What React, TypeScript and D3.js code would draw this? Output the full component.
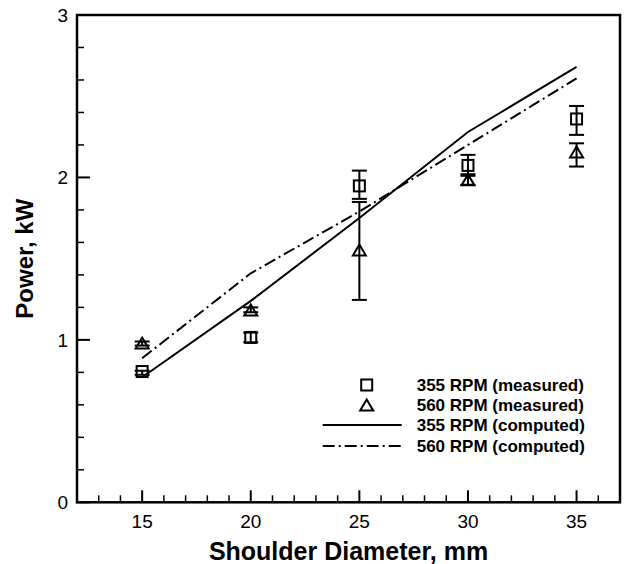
import React from 'react';
import * as d3 from 'd3';

const diameters = [15, 20, 25, 30, 35];
const measured355 = [0.805, 1.015, 1.948, 2.074, 2.36];
const err355Low = [0.785, 0.985, 1.868, 2.01, 2.262];
const err355High = [0.81, 1.045, 2.042, 2.139, 2.44];
const measured560 = [0.98, 1.184, 1.553, 1.985, 2.157];
const err560Low = [0.965, 1.17, 1.246, 1.955, 2.067];
const err560High = [0.99, 1.2, 1.849, 2.02, 2.21];
const computed355 = [0.77, 1.24, 1.75, 2.28, 2.68];
const computed560 = [0.887, 1.41, 1.79, 2.2, 2.61];

const xMajor = [15, 20, 25, 30, 35];
const yMajor = [0, 1, 2, 3];
const legendLabels = [
  '355 RPM (measured)',
  '560 RPM (measured)',
  '355 RPM (computed)',
  '560 RPM (computed)',
];

const W = 628;
const H = 564;
const FONT = 'Arial, "Liberation Sans", Helvetica, sans-serif';

export default function App() {
  const x = d3.scaleLinear().domain([12, 37]).range([77, 620]);
  const y = d3.scaleLinear().domain([0, 3]).range([502.3, 15]);

  const xMinor = d3.range(13, 37, 1).filter((v) => v % 5 !== 0);
  const yMinor = d3.range(0, 3.0001, 0.2).filter((v) => Math.abs(v - Math.round(v)) > 1e-6);

  const line = d3
    .line<[number, number]>()
    .x((d) => x(d[0]))
    .y((d) => y(d[1]));

  const path355 = line(diameters.map((d, i) => [d, computed355[i]]) as [number, number][]) || '';
  const path560 = line(diameters.map((d, i) => [d, computed560[i]]) as [number, number][]) || '';

  const sq = 11;
  const triPath = (cx: number, cy: number) =>
    `M${cx},${cy - 5.5}L${cx + 6.5},${cy + 5.5}L${cx - 6.5},${cy + 5.5}Z`;

  const errBar = (xv: number, lo: number, hi: number, key: string) => {
    const cx = x(xv);
    const cap = 7.5;
    return (
      <g key={key} stroke="#000" strokeWidth={2}>
        <line x1={cx} x2={cx} y1={y(lo)} y2={y(hi)} />
        <line x1={cx - cap} x2={cx + cap} y1={y(lo)} y2={y(lo)} />
        <line x1={cx - cap} x2={cx + cap} y1={y(hi)} y2={y(hi)} />
      </g>
    );
  };

  const legX = 366.7;
  const legRows = [385, 405, 425, 446];

  return (
    <svg
      width={W}
      height={H}
      style={{ position: 'absolute', left: 0, top: 0, background: '#fff' }}
      fontFamily={FONT}
    >
      <rect x={0} y={0} width={W} height={H} fill="#fff" />
      {/* frame */}
      <rect
        x={x(12)}
        y={y(3)}
        width={x(37) - x(12)}
        height={y(0) - y(3)}
        fill="none"
        stroke="#000"
        strokeWidth={2.5}
      />
      {/* x ticks */}
      {xMajor.map((v) => (
        <g key={'xm' + v}>
          <line x1={x(v)} x2={x(v)} y1={y(0)} y2={y(0) - 12} stroke="#000" strokeWidth={2} />
          <text x={x(v)} y={528} fontSize={19} textAnchor="middle">
            {v}
          </text>
        </g>
      ))}
      {xMinor.map((v) => (
        <line key={'xn' + v} x1={x(v)} x2={x(v)} y1={y(0)} y2={y(0) - 7} stroke="#000" strokeWidth={1.5} />
      ))}
      {/* y ticks */}
      {yMajor.map((v) => (
        <g key={'ym' + v}>
          <line x1={x(12)} x2={x(12) + 13} y1={y(v)} y2={y(v)} stroke="#000" strokeWidth={2} />
          <text x={68} y={y(v) + 7} fontSize={19} textAnchor="end">
            {v}
          </text>
        </g>
      ))}
      {yMinor.map((v) => (
        <line key={'yn' + v} x1={x(12)} x2={x(12) + 7} y1={y(v)} y2={y(v)} stroke="#000" strokeWidth={1.5} />
      ))}
      {/* computed lines */}
      <path d={path355} fill="none" stroke="#000" strokeWidth={2} />
      <path d={path560} fill="none" stroke="#000" strokeWidth={2} strokeDasharray="12,4,2,4" />
      {/* error bars */}
      {diameters.map((d, i) => errBar(d, err355Low[i], err355High[i], 'e355' + i))}
      {diameters.map((d, i) => errBar(d, err560Low[i], err560High[i], 'e560' + i))}
      {/* markers */}
      {diameters.map((d, i) => (
        <rect
          key={'s' + i}
          x={x(d) - sq / 2}
          y={y(measured355[i]) - sq / 2}
          width={sq}
          height={sq}
          fill="none"
          stroke="#000"
          strokeWidth={2}
        />
      ))}
      {diameters.map((d, i) => (
        <path key={'t' + i} d={triPath(x(d), y(measured560[i]))} fill="none" stroke="#000" strokeWidth={2} />
      ))}
      {/* legend */}
      <rect x={legX - sq / 2} y={legRows[0] - sq / 2} width={sq} height={sq} fill="none" stroke="#000" strokeWidth={2} />
      <path d={triPath(legX, legRows[1])} fill="none" stroke="#000" strokeWidth={2} />
      <line x1={322.7} x2={401.7} y1={legRows[2]} y2={legRows[2]} stroke="#000" strokeWidth={2} />
      <line x1={322.7} x2={401.7} y1={legRows[3]} y2={legRows[3]} stroke="#000" strokeWidth={2} strokeDasharray="12,4,2,4" />
      {legendLabels.map((t, i) => (
        <text key={t} x={416.7} y={legRows[i] + 6} fontSize={17} fontWeight="bold">
          {t}
        </text>
      ))}
      {/* axis titles */}
      <text x={(x(12) + x(37)) / 2} y={560} fontSize={25} fontWeight="bold" textAnchor="middle">
        Shoulder Diameter, mm
      </text>
      <text
        transform={`translate(33,${(y(0) + y(3)) / 2}) rotate(-90)`}
        fontSize={24}
        fontWeight="bold"
        textAnchor="middle"
      >
        Power, kW
      </text>
    </svg>
  );
}
